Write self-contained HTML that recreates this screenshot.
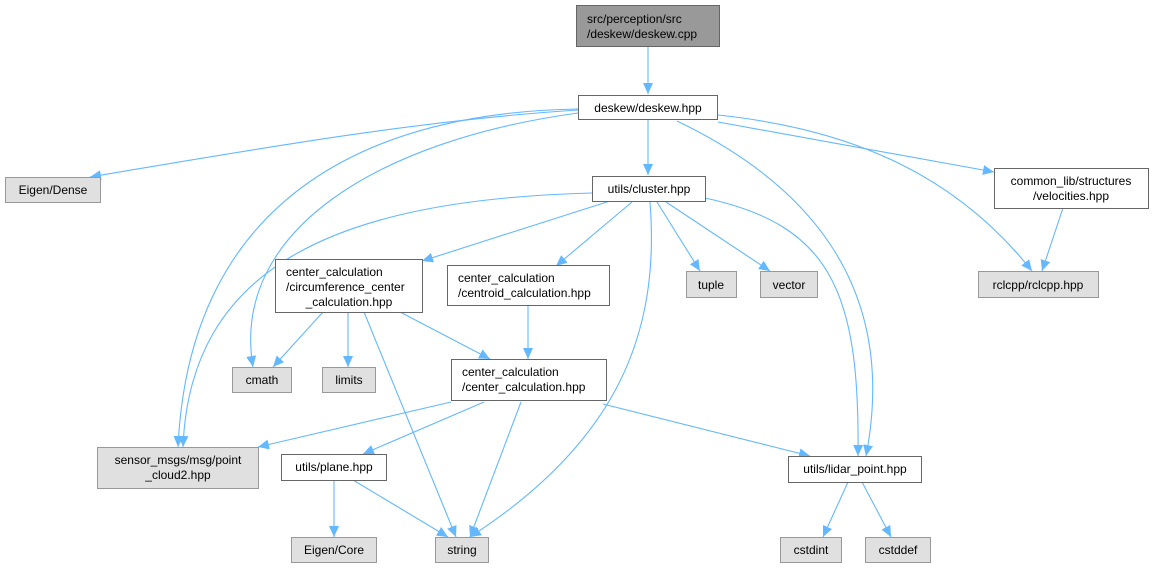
<!DOCTYPE html>
<html><head><meta charset="utf-8"><style>
html,body{margin:0;padding:0;background:#fff;}
svg{display:block;font-family:"Liberation Sans",Arial,sans-serif;font-size:12px;}
</style></head><body>
<svg width="1153" height="568" viewBox="0 0 1153 568" xmlns="http://www.w3.org/2000/svg">
<defs>
<marker id="a" markerUnits="userSpaceOnUse" markerWidth="12" markerHeight="10" refX="11" refY="5" orient="auto">
<path d="M0,0 L11,5 L0,10 z" fill="#63b8ff"/>
</marker>
</defs>
<g fill="none" stroke="#63b8ff" stroke-width="1.1" marker-end="url(#a)">
<path d="M648,46 L648,94"/>
<path d="M578,110 C420,120 250,150 90,177"/>
<path d="M578,109 C380,112 190,190 178,447"/>
<path d="M578,113 C380,140 230,230 253,367"/>
<path d="M648,119 L648,175"/>
<path d="M718,122 L994,172"/>
<path d="M718,115 C860,130 960,180 1032,271"/>
<path d="M677,121 C800,180 900,280 866,456"/>
<path d="M592,193 C330,200 190,270 183,447"/>
<path d="M610,201 L422,261"/>
<path d="M632,202 L556,266"/>
<path d="M657,202 L700,271"/>
<path d="M666,202 L770,271"/>
<path d="M650,202 C660,330 620,440 470,537"/>
<path d="M705,198 C830,225 860,290 858,456"/>
<path d="M1063,208 L1042,271"/>
<path d="M323,312 L273,367"/>
<path d="M348,312 L348,367"/>
<path d="M364,312 L456,537"/>
<path d="M400,312 L490,359"/>
<path d="M528,306 L528,359"/>
<path d="M451,402 L258,447"/>
<path d="M484,402 L363,454"/>
<path d="M521,402 L470,537"/>
<path d="M603,404 L810,456"/>
<path d="M334,480 L334,537"/>
<path d="M353,480 L448,537"/>
<path d="M848,482 L823,537"/>
<path d="M862,482 L891,537"/>
</g>
<g stroke-width="1">
<rect x="576.5" y="5.5" width="143" height="41" fill="#999" stroke="#666"/>
<rect x="578.5" y="95.5" width="139" height="24" fill="#fff" stroke="#666"/>
<rect x="5.5" y="177.5" width="95" height="25" fill="#e0e0e0" stroke="#999"/>
<rect x="592.5" y="176.5" width="113" height="25" fill="#fff" stroke="#666"/>
<rect x="994.5" y="168.5" width="154" height="40" fill="#fff" stroke="#666"/>
<rect x="275.5" y="259.5" width="147" height="53" fill="#fff" stroke="#666"/>
<rect x="447.5" y="265.5" width="162" height="40" fill="#fff" stroke="#666"/>
<rect x="686.5" y="271.5" width="50" height="26" fill="#e0e0e0" stroke="#999"/>
<rect x="760.5" y="271.5" width="57" height="26" fill="#e0e0e0" stroke="#999"/>
<rect x="978.5" y="271.5" width="120" height="26" fill="#e0e0e0" stroke="#999"/>
<rect x="232.5" y="367.5" width="59" height="25" fill="#e0e0e0" stroke="#999"/>
<rect x="322.5" y="367.5" width="53" height="25" fill="#e0e0e0" stroke="#999"/>
<rect x="451.5" y="359.5" width="155" height="41" fill="#fff" stroke="#666"/>
<rect x="97.5" y="447.5" width="161" height="41" fill="#e0e0e0" stroke="#999"/>
<rect x="281.5" y="454.5" width="105" height="26" fill="#fff" stroke="#666"/>
<rect x="788.5" y="456.5" width="133" height="26" fill="#fff" stroke="#666"/>
<rect x="291.5" y="537.5" width="85" height="25" fill="#e0e0e0" stroke="#999"/>
<rect x="435.5" y="537.5" width="53" height="25" fill="#e0e0e0" stroke="#999"/>
<rect x="780.5" y="537.5" width="61" height="25" fill="#e0e0e0" stroke="#999"/>
<rect x="865.5" y="537.5" width="65" height="25" fill="#e0e0e0" stroke="#999"/>
</g>
<g fill="#000">
<text x="587" y="23">src/perception/src</text>
<text x="587" y="38">/deskew/deskew.cpp</text>
<text x="648" y="112" text-anchor="middle">deskew/deskew.hpp</text>
<text x="53" y="194" text-anchor="middle">Eigen/Dense</text>
<text x="649" y="193" text-anchor="middle">utils/cluster.hpp</text>
<text x="1071" y="185" text-anchor="middle">common_lib/structures</text>
<text x="1071" y="200" text-anchor="middle">/velocities.hpp</text>
<text x="286" y="276">center_calculation</text>
<text x="286" y="291">/circumference_center</text>
<text x="349" y="306" text-anchor="middle">_calculation.hpp</text>
<text x="458" y="282">center_calculation</text>
<text x="458" y="297">/centroid_calculation.hpp</text>
<text x="711" y="289" text-anchor="middle">tuple</text>
<text x="789" y="289" text-anchor="middle">vector</text>
<text x="1038" y="289" text-anchor="middle">rclcpp/rclcpp.hpp</text>
<text x="262" y="384" text-anchor="middle">cmath</text>
<text x="349" y="384" text-anchor="middle">limits</text>
<text x="462" y="376">center_calculation</text>
<text x="462" y="391">/center_calculation.hpp</text>
<text x="178" y="464" text-anchor="middle">sensor_msgs/msg/point</text>
<text x="178" y="479" text-anchor="middle">_cloud2.hpp</text>
<text x="334" y="471" text-anchor="middle">utils/plane.hpp</text>
<text x="855" y="473" text-anchor="middle">utils/lidar_point.hpp</text>
<text x="334" y="554" text-anchor="middle">Eigen/Core</text>
<text x="462" y="554" text-anchor="middle">string</text>
<text x="811" y="554" text-anchor="middle">cstdint</text>
<text x="898" y="554" text-anchor="middle">cstddef</text>
</g>
</svg>
</body></html>
